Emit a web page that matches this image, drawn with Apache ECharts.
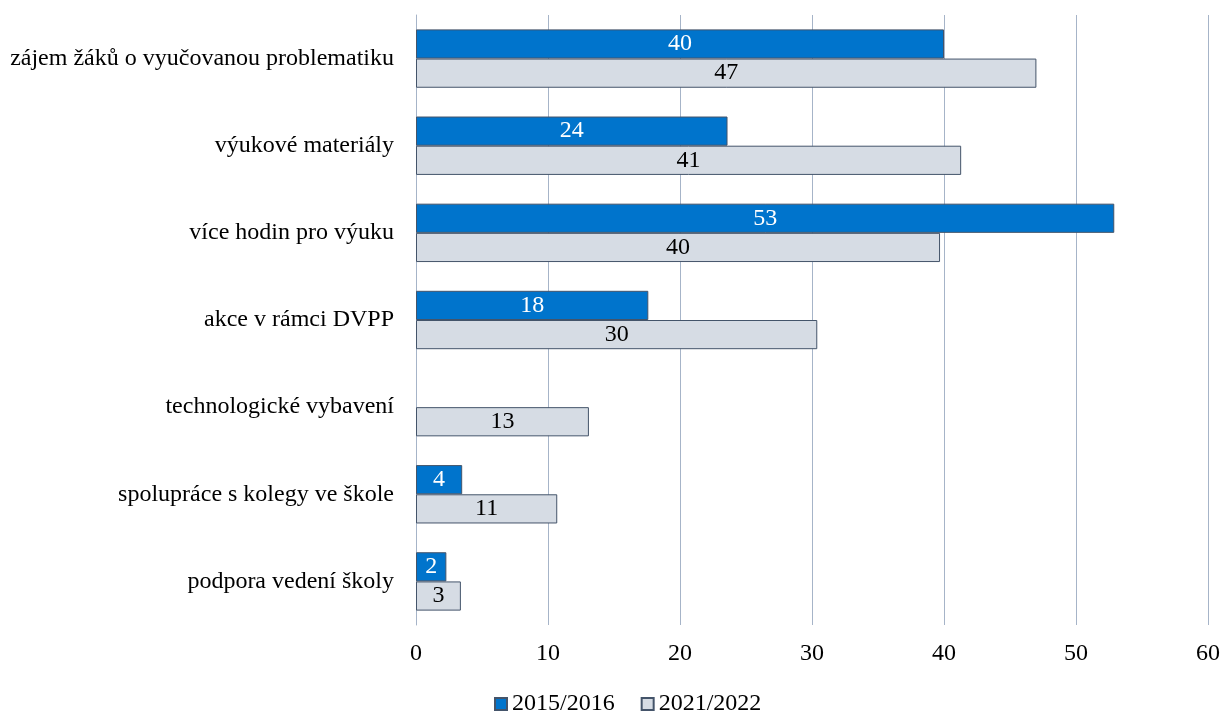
<!DOCTYPE html>
<html>
<head>
<meta charset="utf-8">
<script src="https://cdn.jsdelivr.net/npm/echarts@6/dist/echarts.min.js"></script>
<style>
html,body{margin:0;padding:0;background:#fff;}
#chart{width:1223px;height:713px;}
</style>
</head>
<body>
<div id="chart"></div>
<script>
const categories = [
  "zájem žáků o vyučovanou problematiku",
  "výukové materiály",
  "více hodin pro výuku",
  "akce v rámci DVPP",
  "technologické vybavení",
  "spolupráce s kolegy ve škole",
  "podpora vedení školy"
];
const seriesNames = ["2015/2016", "2021/2022"];
const values2015 = [40.0, 23.6, 52.9, 17.6, null, 3.5, 2.3];
const values2021 = [47.0, 41.3, 39.7, 30.4, 13.1, 10.7, 3.4];
const xTicks = [0, 10, 20, 30, 40, 50, 60];

const FONT = "'Liberation Serif', 'Times New Roman', serif";
const FS = 24;

const chart = echarts.init(document.getElementById('chart'), null, {renderer: 'canvas'});
chart.setOption({
  backgroundColor: '#ffffff',
  animation: false,
  textStyle: {fontFamily: FONT},
  grid: {left: 416, right: 12, top: 15, bottom: 88, containLabel: false},
  legend: {
    left: 494,
    top: 692,
    padding: 0,
    icon: 'rect',
    itemWidth: 12,
    itemHeight: 12,
    itemGap: 26,
    textStyle: {fontFamily: FONT, fontSize: FS, color: '#000', padding: [0, 0, 0, 0]},
    data: seriesNames
  },
  xAxis: {
    type: 'value',
    min: xTicks[0],
    max: xTicks[xTicks.length - 1],
    interval: 10,
    axisLine: {show: false},
    axisTick: {show: false},
    splitLine: {show: true, lineStyle: {color: '#A6B4C8', width: 1}},
    axisLabel: {fontFamily: FONT, fontSize: FS, color: '#000', margin: 17}
  },
  yAxis: {
    type: 'category',
    inverse: true,
    data: categories,
    axisLine: {show: true, lineStyle: {color: '#A6B4C8', width: 1}},
    axisTick: {show: false},
    axisLabel: {fontFamily: FONT, fontSize: FS, color: '#000', margin: 22}
  },
  series: [
    {
      name: seriesNames[0],
      type: 'bar',
      data: values2015,
      barGap: '0%',
      barCategoryGap: '33%',
      itemStyle: {color: '#0074CC', borderColor: '#44546A', borderWidth: 1},
      label: {
        show: true,
        position: 'inside',
        fontFamily: FONT,
        fontSize: FS,
        color: '#ffffff',
        formatter: p => p.value == null ? '' : String(Math.round(p.value))
      }
    },
    {
      name: seriesNames[1],
      type: 'bar',
      data: values2021,
      barGap: '0%',
      barCategoryGap: '33%',
      itemStyle: {color: '#D6DCE4', borderColor: '#44546A', borderWidth: 1},
      label: {
        show: true,
        position: 'inside',
        fontFamily: FONT,
        fontSize: FS,
        color: '#000000',
        formatter: p => String(Math.round(p.value))
      }
    }
  ]
});
</script>
</body>
</html>
